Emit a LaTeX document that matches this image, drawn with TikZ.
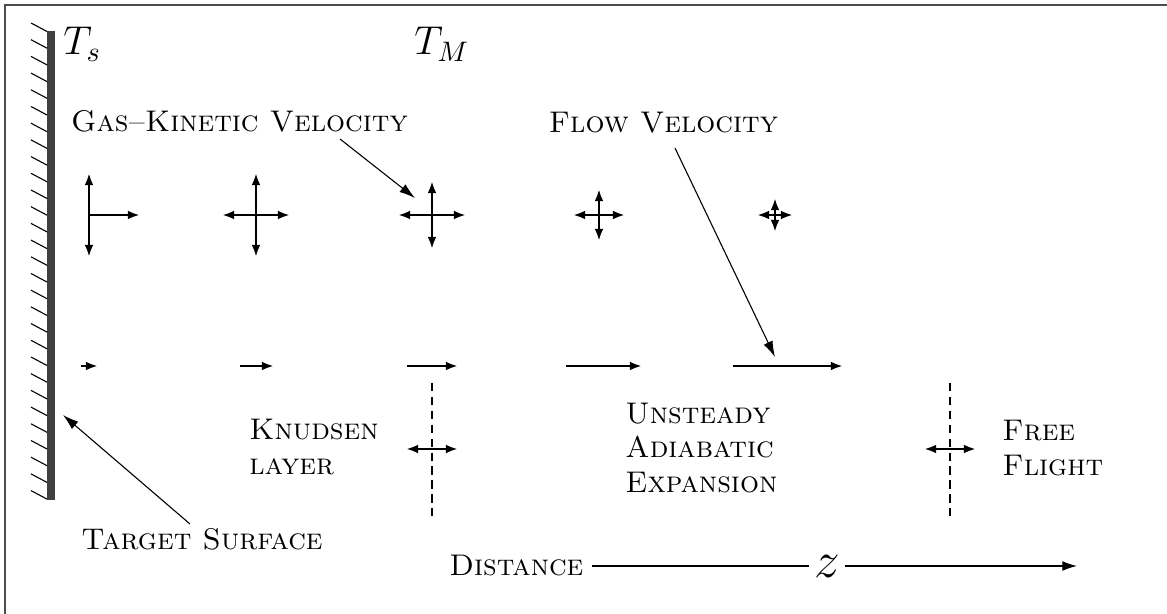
\documentclass[tikz,border=0pt]{standalone}
\usepackage{fix-cm}
\usepackage{fontspec}
\usepackage{amsmath}
\usepackage{tikz}
\usetikzlibrary{arrows.meta,positioning,calc}

\begin{document}
\begin{tikzpicture}[x=0.41pt, y=-0.41pt, font=\fontsize{12.25}{14.2}\selectfont\scshape,
  vel/.style={line width=0.95pt, -{Latex[length=5pt,width=3.6pt]}},
  vel2/.style={line width=0.95pt, {Latex[length=5pt,width=3.6pt]}-{Latex[length=5pt,width=3.6pt]}},
  lead/.style={line width=0.45pt, -{Latex[length=6.5pt,width=4pt]}},
  bound/.style={line width=0.6pt, dash pattern=on 3.4pt off 2.3pt},
  txt/.style={inner sep=0pt, align=left},
  temp/.style={inner sep=0pt, font=\fontsize{16.5}{19}\selectfont}]
\useasboundingbox (0,0) rectangle (1167,614);
\draw[black!70, line width=0.8pt] (5,614) |- (1167,5);
% wall
\fill[black!75] (47,31) rectangle (55,500);
\foreach \k in {0,...,28}\draw[line width=0.45pt] (31,23+16.7*\k) -- (47,31.5+16.7*\k);
\node[temp, anchor=base west] (ts) at (63,55) {$T_s$};
\node[temp, anchor=base west] (tm) at (414,55) {$T_M$};
% labels
\node[txt, anchor=base] (gkv) at (239.5,132) {Gas--Kinetic Velocity};
\node[txt, anchor=base] (flv) at (663.5,133) {Flow Velocity};
\node[txt, anchor=west] (knud) at (249,447) {Knudsen\\layer};
\node[txt, anchor=west] (uae) at (625,448) {Unsteady\\Adiabatic\\Expansion};
\node[txt, anchor=west] (ffl) at (1002,448) {Free\\Flight};
\node[txt, anchor=base west] (tgt) at (81,550) {Target Surface};
% thermal velocity crosses
\draw[vel2] (89,173) -- (89,257);
\draw[vel] (89,215) -- (140,215);
\foreach \x/\h/\v in {256/34/42,432/34/34,599/26/26,775/18/17}{
  \draw[vel2] (\x,215-\v) -- (\x,215+\v);
  \draw[vel2] (\x-\h,215) -- (\x+\h,215);
}
% flow velocity
\foreach \a/\b in {81/98,240/274,407/458,566/642,733/843}\draw[vel] (\a,366) -- (\b,366);
% region boundaries
\foreach \x in {432,950}{
  \draw[bound] (\x,383) -- (\x,516);
  \draw[vel2] (\x-26,449) -- (\x+26,449);
}
\coordinate (gkt) at (415,198);
\coordinate (flt) at (775,357);
\coordinate (wal) at (63,415);
\draw[lead] (340,139) -- (gkt);
\draw[lead] (675,148) -- (flt);
\draw[lead] (190,524) -- (wal);
% distance axis
\node[anchor=east] (dist) at (592,566) {Distance};
\node[inner sep=2pt, font=\fontsize{21}{24}\selectfont] (zl) at (827,566) {$z$};
\coordinate (zend) at (1077,566);
\draw[line width=0.45pt] (dist) -- (zl);
\draw[line width=0.45pt, -{Latex[length=6pt,width=4pt]}] (zl) -- (zend);
\end{tikzpicture}
\end{document}
